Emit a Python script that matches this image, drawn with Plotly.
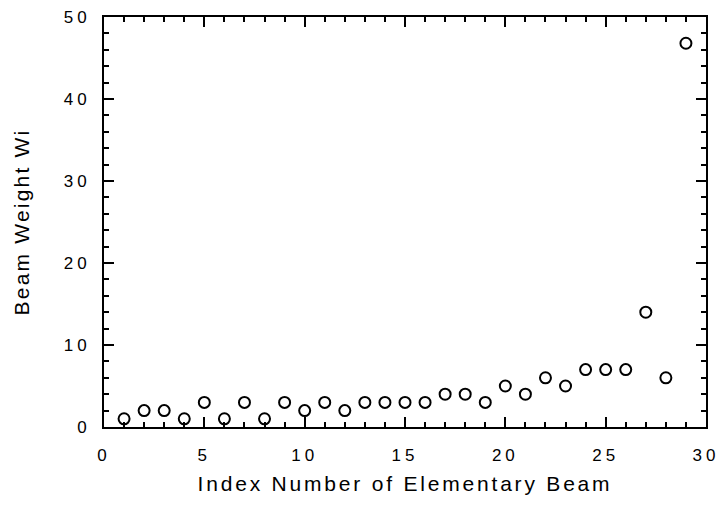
import plotly.graph_objects as go

beam_index = list(range(1, 30))
beam_weight = [1, 2, 2, 1, 3, 1, 3, 1, 3, 2,
               3, 2, 3, 3, 3, 3, 4, 4, 3, 5,
               4, 6, 5, 7, 7, 7, 14, 6, 46.8]

x_ticks = [0, 5, 10, 15, 20, 25, 30]
y_ticks = [0, 10, 20, 30, 40, 50]
x_title = "Index Number of Elementary Beam"
y_title = "Beam Weight Wi"


def spaced(text, px):
    return f'<span style="letter-spacing:{px}px">{text}</span>'


fig = go.Figure()
fig.add_trace(go.Scatter(
    x=beam_index, y=beam_weight, mode="markers",
    marker=dict(symbol="circle-open", size=11, color="black", line=dict(width=2, color="black")),
    showlegend=False,
))

font_family = "Liberation Sans, Arial, Helvetica, sans-serif"
axis_common = dict(
    showgrid=False, zeroline=False, showline=True, linecolor="black", linewidth=2,
    mirror="allticks", ticks="inside", ticklen=10, tickwidth=2, tickcolor="black",
    tickfont=dict(family=font_family, size=17, color="black"),
    automargin=False,
)

fig.update_xaxes(
    range=[0, 30], tickvals=x_ticks, ticktext=[spaced(str(v), 4) for v in x_ticks],
    minor=dict(dtick=1, tick0=0, ticks="inside", ticklen=5, tickwidth=2, tickcolor="black"),
    title=dict(text=spaced(x_title, 2.8), font=dict(family=font_family, size=21, color="black"), standoff=12),
    ticklabelstandoff=12,
    **axis_common,
)
fig.update_yaxes(
    range=[0, 50], tickvals=y_ticks, ticktext=[spaced(str(v), 4) for v in y_ticks],
    minor=dict(dtick=2, tick0=0, ticks="inside", ticklen=5, tickwidth=2, tickcolor="black"),
    title=dict(text=spaced(y_title, 2.2), font=dict(family=font_family, size=21, color="black"), standoff=28),
    ticklabelstandoff=8,
    **axis_common,
)

fig.update_layout(
    width=720, height=505,
    margin=dict(l=104, r=14, t=17, b=78),
    paper_bgcolor="white", plot_bgcolor="white",
)

fig.write_html("out.html")
